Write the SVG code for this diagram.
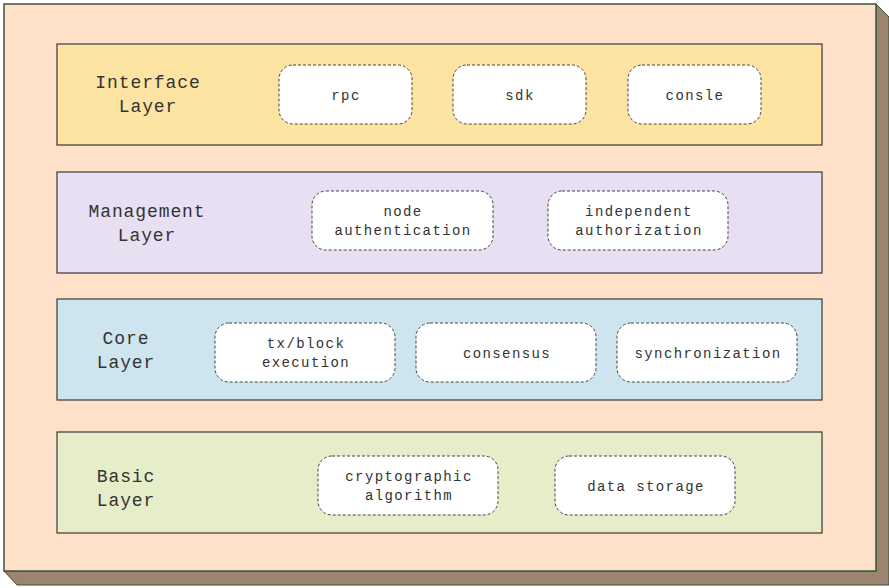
<svg xmlns="http://www.w3.org/2000/svg" width="889" height="588" viewBox="0 0 889 588">
<style>
.layer{stroke:#3a3a3a;stroke-width:1.2}
.node{fill:#fff;stroke:#444;stroke-width:1;stroke-dasharray:3 2}
.lbl{font-family:"Liberation Mono",monospace;font-size:18px;letter-spacing:0.9px;fill:#333;text-anchor:middle}
.nt{font-family:"Liberation Mono",monospace;font-size:14px;letter-spacing:1.4px;fill:#333;text-anchor:middle}
</style>
<g id="frame">
<polygon points="876,4 889,17 889,585 17,585 4,571 876,571" fill="#9C8470" stroke="#3a4f3a" stroke-width="1"/>
<rect x="4" y="4" width="872" height="567" fill="#FFE0C8" stroke="#3a5a3a" stroke-width="1.5"/>
</g>
<g id="interface-layer">
<rect class="layer" x="57" y="44" width="765" height="101" fill="#FDE4A2"/>
<text class="lbl" x="148" y="88">Interface</text>
<text class="lbl" x="148" y="112">Layer</text>
</g>
<g id="management-layer">
<rect class="layer" x="57" y="172" width="765" height="101" fill="#E8DFF3"/>
<text class="lbl" x="147" y="217">Management</text>
<text class="lbl" x="147" y="241">Layer</text>
</g>
<g id="core-layer">
<rect class="layer" x="57" y="299" width="765" height="101" fill="#CEE5EF"/>
<text class="lbl" x="126" y="344">Core</text>
<text class="lbl" x="126" y="368">Layer</text>
</g>
<g id="basic-layer">
<rect class="layer" x="57" y="432" width="765" height="101" fill="#E6EEC9"/>
<text class="lbl" x="126" y="482">Basic</text>
<text class="lbl" x="126" y="506">Layer</text>
</g>
<g id="rpc"><rect class="node" x="279" y="65" width="133" height="59" rx="14"/><text class="nt" x="346" y="100">rpc</text></g>
<g id="sdk"><rect class="node" x="453" y="65" width="133" height="59" rx="14"/><text class="nt" x="520" y="100">sdk</text></g>
<g id="consle"><rect class="node" x="628" y="65" width="133" height="59" rx="14"/><text class="nt" x="695" y="100">consle</text></g>
<g id="node-auth"><rect class="node" x="312" y="191" width="181" height="59" rx="14"/><text class="nt" x="403" y="216">node</text><text class="nt" x="403" y="235">authentication</text></g>
<g id="indep-auth"><rect class="node" x="548" y="191" width="180" height="59" rx="14"/><text class="nt" x="639" y="216">independent</text><text class="nt" x="639" y="235">authorization</text></g>
<g id="txblock"><rect class="node" x="215" y="323" width="180" height="59" rx="14"/><text class="nt" x="306" y="348">tx/block</text><text class="nt" x="306" y="367">execution</text></g>
<g id="consensus"><rect class="node" x="416" y="323" width="180" height="59" rx="14"/><text class="nt" x="507" y="358">consensus</text></g>
<g id="sync"><rect class="node" x="617" y="323" width="180" height="59" rx="14"/><text class="nt" x="708" y="358">synchronization</text></g>
<g id="crypto"><rect class="node" x="318" y="456" width="180" height="59" rx="14"/><text class="nt" x="409" y="481">cryptographic</text><text class="nt" x="409" y="500">algorithm</text></g>
<g id="storage"><rect class="node" x="555" y="456" width="180" height="59" rx="14"/><text class="nt" x="646" y="491">data storage</text></g>
<g id="connectors"></g>
</svg>
